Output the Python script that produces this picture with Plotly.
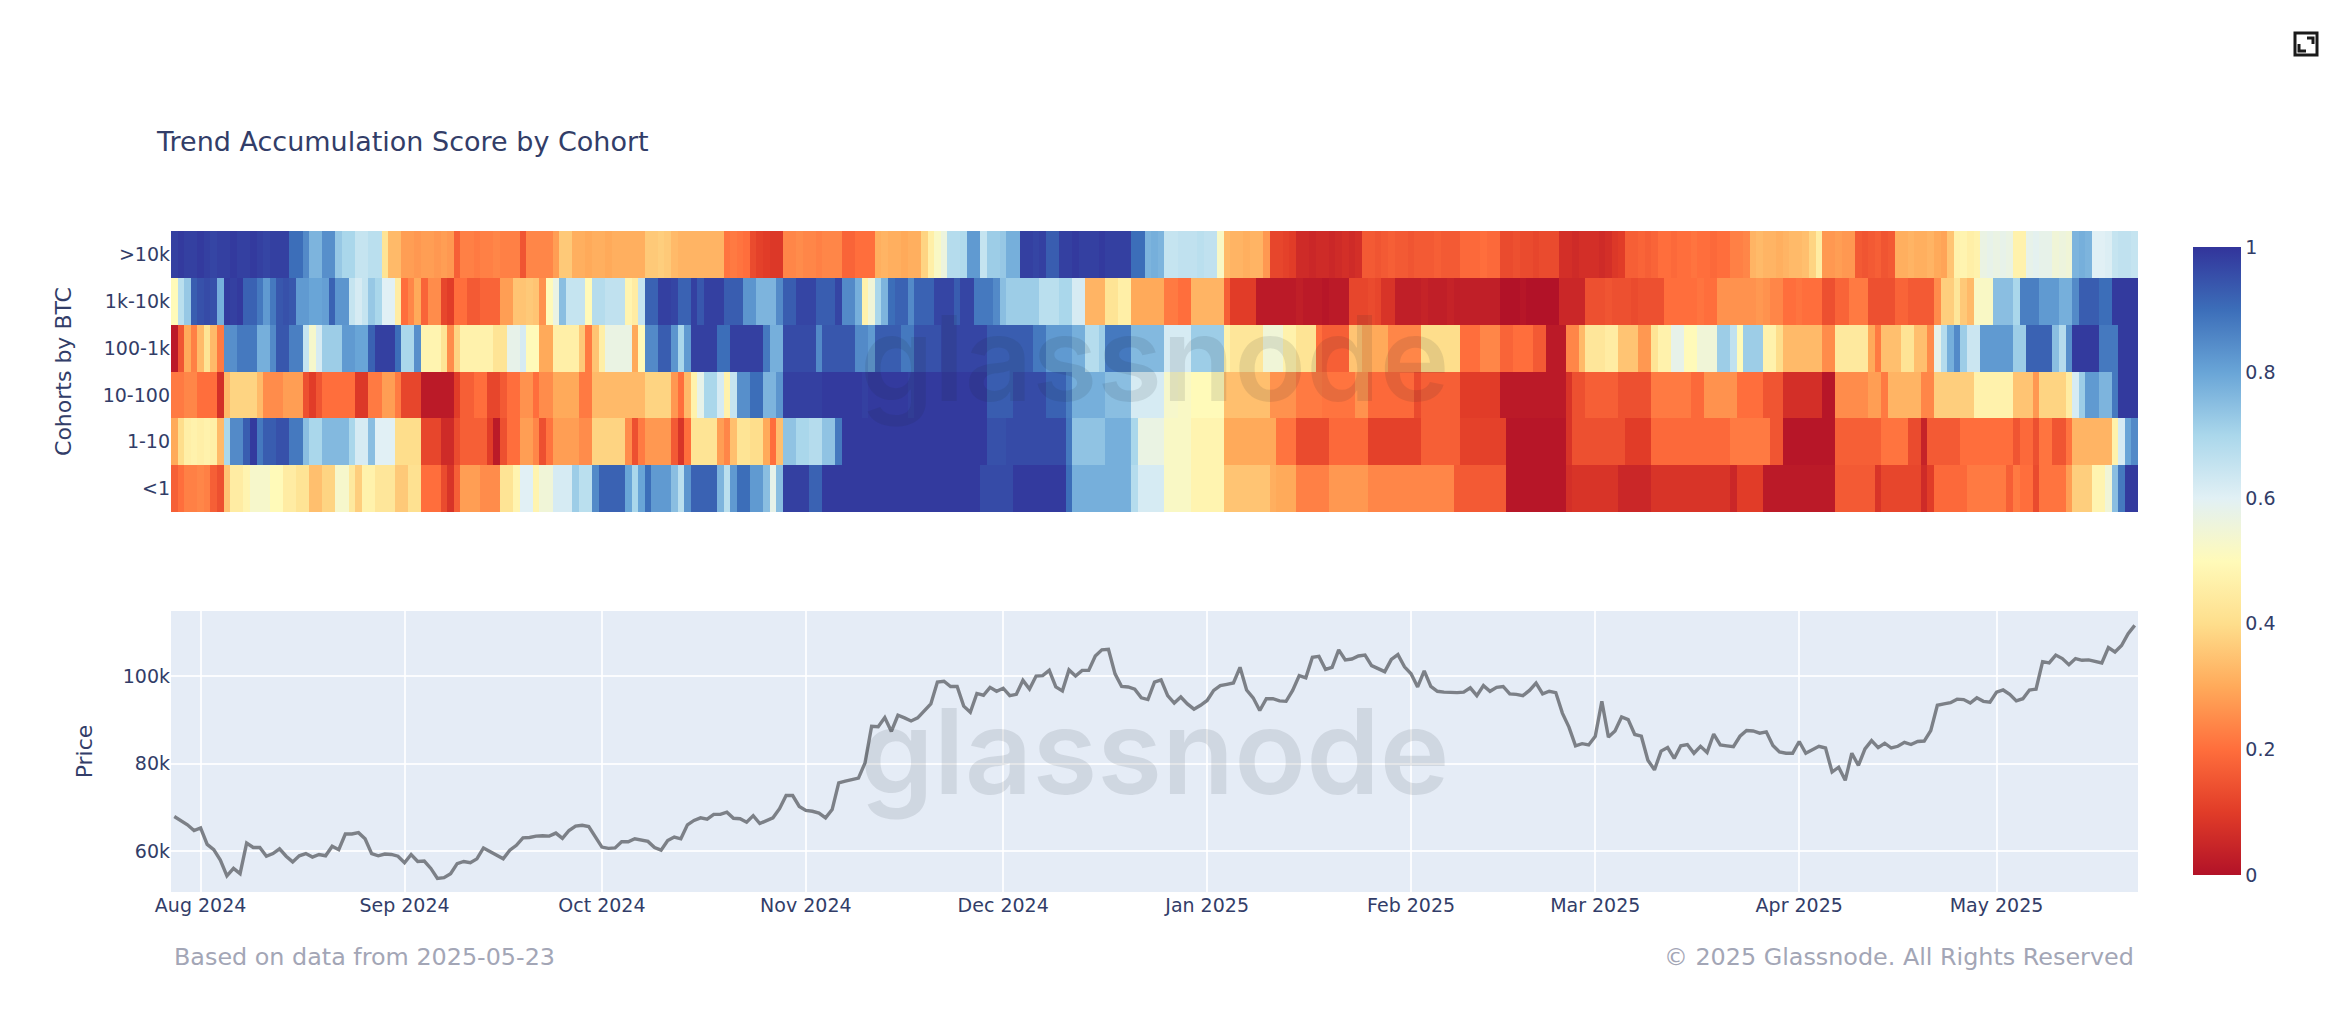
import pandas as pd
import plotly.graph_objects as go
from plotly.subplots import make_subplots

dates = pd.date_range("2024-07-28", periods=299, freq="D")
cohorts = ["<1", "1-10", "10-100", "100-1k", "1k-10k", ">10k"]
price_ticks = [60000, 80000, 100000]
price_labels = ["60k", "80k", "100k"]
cbar_ticks = [0, 0.2, 0.4, 0.6, 0.8, 1]

# one line = 10 days
above_10k = [
    .98, .99, .98, .98, .99, .98, .97, .98, .98, .99,
    .98, .98, .99, .98, .97, .98, .98, .98, .90, .90,
    .85, .77, .77, .84, .84, .73, .70, .70, .65, .65,
    .67, .67, .42, .33, .33, .28, .28, .27, .28, .28,
    .27, .28, .27, .17, .23, .23, .22, .23, .23, .24,
    .23, .23, .23, .15, .24, .24, .24, .24, .28, .36,
    .36, .31, .31, .30, .31, .31, .30, .31, .31, .31,
    .31, .31, .36, .36, .37, .36, .33, .32, .32, .32,
    .32, .32, .32, .32, .21, .22, .21, .20, .13, .11,
    .10, .09, .09, .24, .24, .25, .24, .24, .23, .24,
    .24, .24, .18, .18, .20, .20, .20, .31, .32, .31,
    .31, .30, .31, .31, .38, .46, .52, .56, .68, .68,
    .69, .82, .82, .65, .72, .72, .73, .78, .78, .98,
    .98, .97, .98, .93, .93, .98, .98, .99, .98, .98,
    .98, .99, .98, .98, .98, .98, .90, .90, .77, .78,
    .77, .65, .65, .66, .66, .66, .67, .66, .66, .52,
    .33, .32, .32, .31, .32, .32, .27, .12, .12, .11,
    .10, .06, .06, .05, .06, .06, .05, .06, .07, .06,
    .07, .16, .16, .15, .16, .17, .16, .16, .15, .16,
    .16, .16, .17, .16, .16, .16, .19, .19, .19, .20,
    .19, .19, .13, .13, .14, .13, .13, .12, .13, .13,
    .13, .07, .07, .06, .07, .07, .07, .06, .07, .09,
    .10, .17, .17, .18, .17, .18, .20, .20, .19, .20,
    .20, .21, .20, .20, .19, .20, .20, .23, .23, .24,
    .32, .33, .32, .32, .31, .32, .33, .33, .34, .38,
    .45, .27, .27, .28, .27, .27, .16, .15, .16, .17,
    .15, .16, .31, .31, .32, .31, .31, .32, .30, .29,
    .35, .47, .48, .46, .47, .57, .58, .57, .58, .57,
    .47, .47, .58, .59, .58, .58, .55, .56, .55, .77,
    .78, .77, .60, .60, .61, .65, .66, .66, .65,
]
from_1k_10k = [
    .50, .67, .73, .93, .95, .96, .95, .78, .99, .98,
    .99, .92, .92, .88, .82, .88, .94, .95, .94, .82,
    .82, .80, .80, .81, .92, .83, .83, .65, .62, .65,
    .73, .70, .60, .60, .45, .20, .24, .30, .18, .25,
    .25, .12, .10, .20, .20, .16, .16, .18, .18, .18,
    .28, .28, .35, .35, .36, .35, .26, .50, .57, .75,
    .65, .65, .65, .50, .68, .68, .66, .66, .66, .48,
    .45, .65, .92, .92, .98, .98, .97, .92, .92, .98,
    .94, .98, .98, .98, .93, .93, .93, .83, .83, .77,
    .77, .77, .85, .93, .93, .97, .97, .97, .93, .93,
    .93, .97, .85, .85, .78, .47, .55, .70, .77, .90,
    .92, .92, .85, .92, .92, .92, .97, .97, .97, .93,
    .97, .97, .88, .88, .88, .85, .75, .72, .72, .72,
    .72, .72, .67, .67, .67, .70, .70, .62, .62, .32,
    .32, .32, .42, .42, .46, .46, .30, .30, .30, .30,
    .30, .22, .22, .20, .20, .32, .32, .32, .32, .32,
    .17, .10, .10, .10, .10, .02, .02, .02, .02, .02,
    .02, .03, .02, .02, .02, .01, .02, .02, .02, .12,
    .12, .12, .13, .12, .08, .08, .03, .03, .03, .03,
    .04, .03, .03, .03, .04, .03, .03, .03, .03, .03,
    .03, .03, .00, .00, .00, .01, .00, .00, .00, .00,
    .00, .05, .05, .05, .05, .14, .14, .14, .15, .14,
    .14, .14, .13, .14, .14, .14, .14, .20, .20, .20,
    .20, .20, .21, .20, .20, .26, .26, .26, .26, .26,
    .26, .27, .26, .24, .24, .20, .20, .21, .20, .20,
    .20, .14, .14, .18, .18, .22, .22, .22, .14, .14,
    .14, .14, .18, .18, .16, .16, .16, .16, .25, .37,
    .37, .43, .36, .33, .52, .52, .52, .75, .75, .75,
    .70, .87, .87, .87, .82, .82, .82, .78, .78, .85,
    .93, .93, .93, .90, .90, .99, .99, .99, .99,
]
from_100_1k = [
    .02, .15, .30, .23, .33, .42, .33, .22, .84, .84,
    .88, .88, .88, .78, .78, .85, .94, .94, .87, .87,
    .65, .53, .62, .72, .72, .72, .82, .82, .80, .80,
    .92, .98, .98, .98, .90, .70, .70, .84, .48, .48,
    .48, .42, .25, .38, .47, .47, .47, .47, .47, .42,
    .42, .58, .58, .62, .50, .50, .30, .30, .46, .46,
    .46, .46, .36, .22, .35, .46, .57, .57, .57, .57,
    .30, .50, .85, .85, .93, .93, .83, .70, .82, .98,
    .98, .98, .98, .90, .90, .98, .98, .98, .98, .98,
    .88, .78, .78, .96, .96, .96, .96, .96, .85, .94,
    .94, .94, .94, .94, .85, .85, .82, .93, .93, .93,
    .93, .88, .88, .95, .95, .95, .95, .97, .97, .97,
    .97, .97, .97, .97, .93, .93, .93, .93, .93, .93,
    .93, .88, .88, .82, .82, .82, .82, .78, .78, .68,
    .68, .72, .88, .88, .88, .88, .76, .76, .76, .76,
    .76, .62, .62, .62, .62, .72, .72, .72, .72, .72,
    .47, .43, .43, .43, .43, .43, .55, .55, .55, .47,
    .47, .42, .42, .42, .20, .17, .17, .17, .17, .35,
    .35, .30, .30, .30, .30, .24, .24, .24, .24, .24,
    .40, .40, .40, .40, .40, .40, .20, .20, .20, .24,
    .24, .24, .18, .18, .20, .20, .20, .16, .16, .02,
    .02, .02, .24, .24, .33, .43, .43, .43, .45, .45,
    .35, .35, .35, .27, .27, .42, .47, .47, .58, .58,
    .50, .50, .55, .55, .55, .72, .72, .66, .50, .72,
    .72, .72, .47, .47, .40, .33, .33, .33, .33, .33,
    .33, .25, .25, .44, .44, .44, .44, .44, .30, .22,
    .34, .34, .34, .42, .42, .34, .34, .25, .58, .68,
    .78, .85, .72, .64, .64, .82, .82, .82, .82, .82,
    .72, .72, .92, .92, .92, .92, .75, .68, .84, .99,
    .99, .99, .99, .88, .88, .88, .99, .99, .99,
]
from_10_100 = [
    .22, .22, .24, .24, .20, .20, .20, .07, .33, .38,
    .38, .38, .38, .33, .25, .25, .25, .28, .28, .28,
    .14, .10, .15, .20, .20, .20, .20, .20, .09, .09,
    .22, .22, .28, .28, .22, .12, .12, .12, .02, .02,
    .02, .02, .02, .10, .17, .17, .20, .20, .12, .12,
    .16, .20, .20, .26, .26, .20, .25, .25, .30, .30,
    .30, .30, .22, .22, .33, .33, .33, .33, .33, .33,
    .33, .33, .38, .38, .38, .38, .27, .20, .33, .47,
    .58, .70, .70, .62, .47, .65, .84, .84, .90, .90,
    .77, .77, .83, .98, .98, .98, .98, .98, .98, .99,
    .99, .99, .99, .99, .99, .98, .99, .99, .99, .99,
    .99, .99, .98, .99, .99, .99, .99, .99, .99, .99,
    .99, .99, .99, .99, .93, .93, .93, .93, .96, .96,
    .96, .96, .96, .92, .92, .92, .87, .78, .78, .78,
    .78, .78, .75, .75, .75, .75, .62, .62, .62, .62,
    .62, .53, .53, .52, .52, .50, .50, .50, .50, .50,
    .34, .34, .34, .34, .34, .34, .34, .26, .26, .26,
    .26, .22, .22, .22, .22, .21, .21, .21, .21, .21,
    .26, .26, .19, .19, .19, .19, .19, .19, .19, .13,
    .17, .17, .17, .17, .17, .17, .10, .10, .10, .10,
    .10, .10, .02, .02, .02, .02, .02, .02, .02, .02,
    .02, .02, .08, .14, .14, .17, .17, .17, .17, .17,
    .14, .14, .14, .14, .14, .22, .22, .22, .22, .22,
    .22, .19, .19, .26, .26, .26, .26, .26, .20, .20,
    .20, .20, .15, .15, .15, .07, .07, .07, .07, .07,
    .07, .01, .01, .25, .25, .25, .25, .25, .28, .28,
    .22, .32, .32, .32, .32, .32, .24, .24, .37, .37,
    .37, .37, .37, .37, .47, .47, .47, .47, .47, .47,
    .35, .35, .35, .27, .38, .38, .38, .38, .45, .62,
    .72, .82, .82, .77, .77, .88, .99, .99, .99,
]
from_1_10 = [
    .30, .40, .46, .47, .46, .47, .46, .33, .70, .85,
    .85, .93, .99, .88, .93, .93, .95, .95, .88, .88,
    .75, .70, .70, .76, .76, .76, .76, .70, .62, .62,
    .75, .60, .60, .60, .40, .40, .40, .40, .12, .12,
    .12, .06, .06, .13, .17, .17, .17, .17, .10, .02,
    .14, .20, .20, .28, .28, .24, .14, .21, .28, .28,
    .28, .28, .25, .25, .38, .38, .38, .38, .38, .25,
    .14, .22, .27, .27, .27, .27, .16, .08, .20, .42,
    .42, .42, .42, .28, .24, .34, .42, .42, .40, .40,
    .30, .20, .34, .74, .74, .70, .70, .68, .68, .74,
    .74, .88, .99, .99, .99, .99, .99, .99, .99, .99,
    .99, .99, .99, .99, .99, .99, .99, .99, .99, .99,
    .99, .99, .99, .99, .95, .95, .95, .96, .96, .96,
    .96, .96, .96, .96, .96, .96, .88, .74, .74, .74,
    .74, .74, .78, .78, .78, .78, .70, .57, .57, .57,
    .57, .52, .52, .52, .52, .48, .48, .48, .48, .48,
    .30, .30, .30, .30, .30, .30, .30, .30, .21, .21,
    .21, .13, .13, .13, .13, .13, .19, .19, .19, .19,
    .19, .19, .11, .11, .11, .11, .11, .11, .11, .11,
    .17, .17, .17, .17, .17, .17, .11, .11, .11, .11,
    .11, .11, .11, .01, .01, .01, .01, .01, .01, .01,
    .01, .01, .08, .14, .14, .14, .14, .14, .14, .14,
    .14, .10, .10, .10, .10, .19, .19, .19, .19, .19,
    .19, .19, .19, .19, .19, .19, .19, .22, .22, .22,
    .22, .22, .22, .15, .15, .01, .01, .01, .01, .01,
    .01, .01, .01, .17, .17, .17, .17, .17, .17, .17,
    .21, .21, .21, .21, .13, .13, .04, .16, .16, .16,
    .16, .16, .20, .20, .20, .20, .20, .20, .20, .20,
    .15, .19, .19, .14, .21, .21, .15, .15, .21, .32,
    .32, .32, .32, .32, .32, .47, .62, .80, .85,
]
below_1 = [
    .17, .20, .23, .23, .24, .23, .17, .14, .35, .45,
    .45, .48, .53, .53, .53, .50, .50, .45, .45, .42,
    .42, .34, .34, .38, .38, .53, .53, .44, .37, .47,
    .47, .43, .43, .43, .36, .36, .41, .41, .20, .20,
    .20, .13, .08, .17, .28, .28, .28, .25, .25, .25,
    .42, .42, .48, .60, .60, .48, .55, .55, .62, .62,
    .62, .72, .67, .67, .85, .92, .92, .92, .92, .80,
    .70, .80, .90, .82, .82, .82, .75, .67, .83, .92,
    .92, .92, .92, .77, .67, .82, .90, .90, .82, .82,
    .75, .58, .75, .98, .98, .98, .98, .92, .92, .99,
    .99, .99, .99, .99, .99, .99, .99, .99, .99, .99,
    .99, .99, .99, .99, .99, .99, .99, .99, .99, .99,
    .99, .99, .99, .96, .96, .96, .96, .96, .99, .99,
    .99, .99, .99, .99, .99, .99, .90, .78, .78, .78,
    .78, .78, .78, .78, .78, .78, .68, .62, .62, .62,
    .62, .52, .52, .52, .52, .48, .48, .48, .48, .48,
    .35, .35, .35, .35, .35, .35, .35, .31, .30, .30,
    .30, .23, .23, .23, .23, .23, .27, .27, .27, .27,
    .27, .27, .24, .24, .24, .24, .24, .24, .24, .24,
    .24, .24, .24, .24, .24, .16, .16, .16, .16, .16,
    .16, .16, .16, .01, .01, .01, .01, .01, .01, .01,
    .01, .01, .07, .08, .08, .08, .08, .08, .08, .08,
    .05, .05, .05, .05, .05, .08, .08, .08, .08, .08,
    .08, .08, .08, .08, .08, .08, .08, .05, .10, .10,
    .10, .10, .02, .02, .02, .02, .02, .02, .02, .02,
    .02, .02, .02, .16, .16, .16, .16, .16, .16, .08,
    .12, .12, .12, .12, .12, .12, .06, .10, .19, .19,
    .19, .19, .19, .22, .22, .22, .22, .22, .22, .17,
    .22, .20, .20, .13, .21, .21, .21, .21, .28, .37,
    .37, .37, .48, .48, .55, .75, .88, .99, .99,
]

# thousands of USD
price_k = [
    67.9, 67.0, 66.0, 64.7, 65.3, 61.5, 60.3, 57.9, 54.3, 56.0,
    54.8, 61.8, 60.8, 60.8, 58.8, 59.4, 60.5, 58.8, 57.5, 58.9,
    59.4, 58.6, 59.2, 58.9, 61.1, 60.3, 63.9, 63.9, 64.2, 62.8,
    59.4, 58.9, 59.3, 59.2, 58.8, 57.3, 59.2, 57.6, 57.7, 56.0,
    53.7, 53.9, 54.8, 57.1, 57.6, 57.3, 58.2, 60.7, 59.9, 59.2,
    58.2, 60.2, 61.3, 63.0, 63.1, 63.4, 63.5, 63.4, 64.1, 62.9,
    64.7, 65.7, 65.9, 65.6, 63.2, 60.9, 60.6, 60.7, 62.1, 62.1,
    62.8, 62.5, 62.2, 60.8, 60.2, 62.4, 63.2, 62.8, 66.0, 67.0,
    67.6, 67.3, 68.4, 68.4, 68.9, 67.5, 67.4, 66.6, 68.1, 66.3,
    66.9, 67.6, 69.7, 72.7, 72.7, 70.2, 69.3, 69.1, 68.7, 67.6,
    69.5, 75.6, 76.0, 76.3, 76.7, 80.2, 88.6, 88.5, 90.6, 87.4,
    91.1, 90.5, 89.8, 90.5, 92.0, 93.7, 98.7, 98.9, 97.7, 97.7,
    93.2, 91.8, 96.1, 95.7, 97.5, 96.6, 97.3, 95.6, 95.9, 99.1,
    97.1, 100.1, 100.2, 101.4, 97.6, 96.7, 101.5, 100.1, 101.4, 101.4,
    104.7, 106.1, 106.2, 100.6, 97.7, 97.6, 97.1, 95.1, 94.7, 98.7,
    99.2, 95.6, 93.9, 95.3, 93.7, 92.5, 93.4, 94.5, 96.8, 97.9,
    98.2, 98.5, 102.1, 96.9, 95.1, 92.2, 94.9, 94.9, 94.4, 94.3,
    96.8, 100.2, 99.7, 104.4, 104.6, 101.6, 102.1, 106.1, 103.8, 104.0,
    104.7, 104.9, 102.5, 101.8, 101.1, 103.9, 105.0, 102.2, 100.6, 97.6,
    101.3, 97.7, 96.6, 96.4, 96.3, 96.3, 96.4, 97.4, 95.6, 97.9,
    96.6, 97.5, 97.7, 96.0, 95.9, 95.6, 96.8, 98.5, 96.0, 96.6,
    96.3, 91.6, 88.4, 84.1, 84.6, 84.3, 86.3, 94.3, 86.1, 87.5,
    90.7, 90.1, 86.7, 86.3, 80.8, 78.6, 82.9, 83.7, 81.2, 84.1,
    84.4, 82.4, 84.0, 82.6, 86.8, 84.3, 84.1, 83.9, 86.3, 87.6,
    87.5, 87.0, 87.3, 84.2, 82.7, 82.4, 82.4, 85.1, 82.4, 83.2,
    84.0, 83.6, 78.1, 79.2, 76.2, 82.4, 79.6, 83.4, 85.3, 83.7,
    84.7, 83.6, 84.0, 84.9, 84.4, 85.1, 85.2, 87.6, 93.4, 93.7,
    94.0, 94.8, 94.7, 93.9, 95.1, 94.3, 94.1, 96.4, 96.9, 95.9,
    94.4, 94.9, 96.9, 97.1, 103.4, 103.1, 104.9, 104.1, 102.7, 104.1,
    103.7, 103.8, 103.5, 103.1, 106.6, 105.6, 107.1, 109.8, 111.7,
]
price = [p * 1000 for p in price_k]

# colours
score_colors = [
    [0.0, "rgb(178,18,40)"], [0.1, "rgb(225,60,40)"], [0.2, "rgb(255,110,60)"],
    [0.3, "rgb(255,170,90)"], [0.4, "rgb(254,222,140)"], [0.5, "rgb(255,250,185)"],
    [0.6, "rgb(225,240,245)"], [0.7, "rgb(170,215,235)"], [0.8, "rgb(105,165,215)"],
    [0.9, "rgb(60,110,185)"], [1.0, "rgb(50,52,155)"],
]

TEXT = "#323d68"
FONT = "DejaVu Sans"
FOOT = "#a3a6b6"
MARK = "rgba(30,35,50,0.105)"

# plot area in page pixels, used for the bits placed in paper coords
L, R, T, B = 171, 2138, 231, 892
def px(x):
    return (x - L) / (R - L)
def py(y):
    return (B - y) / (B - T)

fig = make_subplots(rows=2, cols=1, shared_xaxes=True, vertical_spacing=0.1498)

fig.add_trace(go.Heatmap(
    x=dates,
    y=cohorts,
    z=[below_1, from_1_10, from_10_100, from_100_1k, from_1k_10k, above_10k],
    colorscale=score_colors,
    zmin=0,
    zmax=1,
    colorbar=dict(
        thickness=48, len=628 / 661, lenmode="fraction",
        x=px(2193), xanchor="left", xpad=0,
        y=py(247), yanchor="top", ypad=0,
        outlinewidth=0, tickvals=cbar_ticks, ticks="", ticklen=0,
        tickfont=dict(size=19, color=TEXT, family=FONT),
    ),
), row=1, col=1)

fig.add_trace(go.Scatter(
    x=dates,
    y=price,
    mode="lines",
    line=dict(color="#7c8087", width=3.4),
    showlegend=False,
), row=2, col=1)

date_range = ["2024-07-27 12:00", "2025-05-22 12:00"]
fig.update_xaxes(range=date_range, dtick="M1", tickformat="%b %Y", showticklabels=False,
                 showgrid=False, zeroline=False, row=1, col=1)
fig.update_xaxes(range=date_range, dtick="M1", tickformat="%b %Y", showticklabels=True,
                 showgrid=True, gridcolor="rgba(255,255,255,0.85)", gridwidth=2, zeroline=False,
                 ticklabelposition="outside", tickfont=dict(size=19, color=TEXT, family=FONT),
                 row=2, col=1)
fig.update_yaxes(title=dict(text="Cohorts by BTC", font=dict(size=22, color=TEXT, family=FONT), standoff=24),
                 tickfont=dict(size=19, color=TEXT, family=FONT), showgrid=False, row=1, col=1)
fig.update_yaxes(title=dict(text="Price", font=dict(size=22, color=TEXT, family=FONT), standoff=24),
                 range=[50600, 115000], tickvals=price_ticks, ticktext=price_labels,
                 tickfont=dict(size=19, color=TEXT, family=FONT),
                 showgrid=True, gridcolor="rgba(255,255,255,0.85)", gridwidth=2, zeroline=False, row=2, col=1)

fig.update_layout(
    width=2350,
    height=1030,
    margin=dict(l=L, r=2350 - R, t=T, b=1030 - B, pad=0),
    paper_bgcolor="white",
    plot_bgcolor="#E5ECF6",
    showlegend=False,
    title=dict(text="Trend Accumulation Score by Cohort", x=157 / 2350, xanchor="left",
               y=1 - 142 / 1030, yanchor="middle", font=dict(size=27, color=TEXT, family=FONT)),
    annotations=[
        dict(text="Based on data from 2025-05-23", xref="paper", yref="paper", x=px(172), y=py(957),
             xanchor="left", yanchor="middle", showarrow=False, font=dict(size=23.85, color=FOOT, family=FONT)),
        dict(text="© 2025 Glassnode. All Rights Reserved", xref="paper", yref="paper", x=px(2136), y=py(957),
             xanchor="right", yanchor="middle", showarrow=False, font=dict(size=23.85, color=FOOT, family=FONT)),
        dict(text="glassnode", xref="paper", yref="paper", x=px(1155), y=py(358),
             xanchor="center", yanchor="middle", showarrow=False,
             font=dict(size=118, color=MARK, family="Inter", weight=600)),
        dict(text="glassnode", xref="paper", yref="paper", x=px(1155), y=py(751),
             xanchor="center", yanchor="middle", showarrow=False,
             font=dict(size=118, color=MARK, family="Inter", weight=600)),
    ],
    shapes=[
        dict(type="rect", xref="paper", yref="paper", x0=px(2295), x1=px(2317), y0=py(33), y1=py(55),
             line=dict(color="#1a1a1a", width=3)),
        dict(type="path", xref="paper", yref="paper",
             path=f"M {px(2307)} {py(38)} L {px(2313)} {py(38)} L {px(2313)} {py(44)}",
             line=dict(color="#1a1a1a", width=3)),
        dict(type="path", xref="paper", yref="paper",
             path=f"M {px(2299)} {py(44)} L {px(2299)} {py(51)} L {px(2306)} {py(51)}",
             line=dict(color="#1a1a1a", width=3)),
    ],
)

fig.write_html("out.html", config={"displayModeBar": False},
               post_script="document.body.style.margin='0';")
